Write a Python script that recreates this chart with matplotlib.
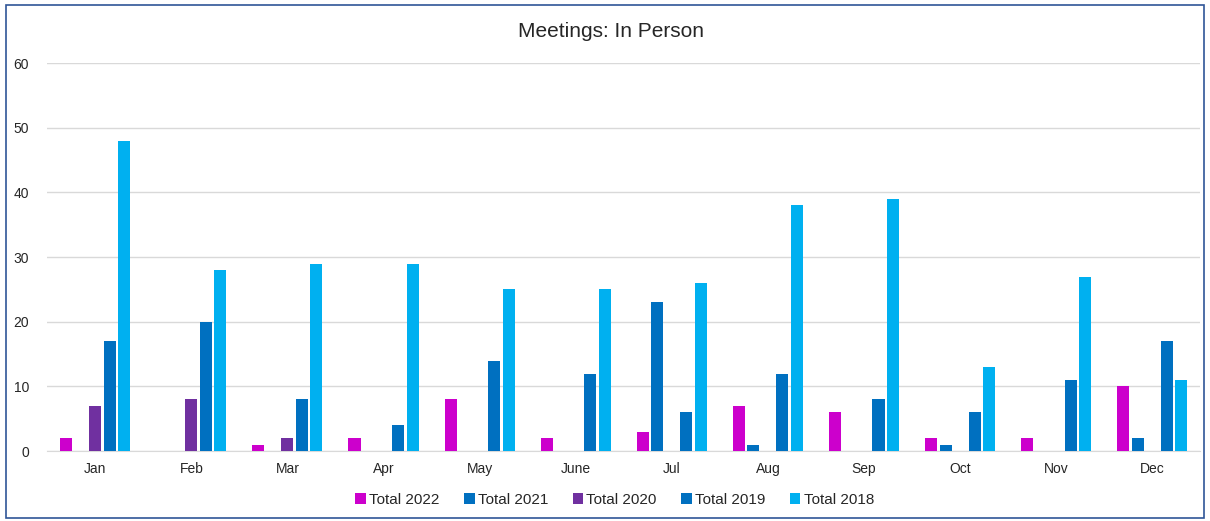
import numpy as np
import matplotlib.pyplot as plt

plt.rcParams['font.family'] = ['Liberation Sans', 'DejaVu Sans']

months = ['Jan', 'Feb', 'Mar', 'Apr', 'May', 'June', 'Jul', 'Aug', 'Sep', 'Oct', 'Nov', 'Dec']
total_2022 = [2, 0, 1, 2, 8, 2, 3, 7, 6, 2, 2, 10]
total_2021 = [0, 0, 0, 0, 0, 0, 23, 1, 0, 1, 0, 2]
total_2020 = [7, 8, 2, 0, 0, 0, 0, 0, 0, 0, 0, 0]
total_2019 = [17, 20, 8, 4, 14, 12, 6, 12, 8, 6, 11, 17]
total_2018 = [48, 28, 29, 29, 25, 25, 26, 38, 39, 13, 27, 11]

series = [
    ('Total 2022', total_2022, '#CC00CC'),
    ('Total 2021', total_2021, '#0070C0'),
    ('Total 2020', total_2020, '#7030A0'),
    ('Total 2019', total_2019, '#0070C0'),
    ('Total 2018', total_2018, '#00B0F0'),
]

fig = plt.figure(figsize=(12.1, 5.21), dpi=100)
ax = fig.add_axes([0.039, 0.134, 0.953, 0.745])

x = np.arange(len(months))
step = 0.151
width = 0.125
for i, (name, vals, col) in enumerate(series):
    ax.bar(x + (i - 2) * step, vals, width, color=col, label=name, zorder=3)

ax.set_xlim(-0.5, len(months) - 0.5)
ax.set_ylim(0, 60)
ax.set_yticks(range(0, 61, 10))
ax.set_xticks(x)
ax.set_xticklabels(months)
ax.yaxis.grid(True, color='#D9D9D9', linewidth=1, zorder=0)
for s in ['top', 'right', 'left']:
    ax.spines[s].set_visible(False)
ax.spines['bottom'].set_color('#D9D9D9')
ax.tick_params(axis='both', length=0, labelsize=10, colors='#262626')
ax.tick_params(axis='x', pad=8)
ax.tick_params(axis='y', pad=13)

fig.text(0.505, 0.94, 'Meetings: In Person', fontsize=15, color='#262626',
         ha='center', va='center')

fig.legend(loc='center', bbox_to_anchor=(0.508, 0.04), ncol=5, frameon=False,
           fontsize=11, handlelength=0.7, handleheight=0.7, handletextpad=0.2,
           columnspacing=1.6, labelcolor='#262626')

border = plt.Rectangle((0.005, 0.005), 0.99, 0.985, transform=fig.transFigure,
                       fill=False, edgecolor='#2F5597', linewidth=1.2)
fig.patches.append(border)

fig.savefig('out.png', dpi=100)
